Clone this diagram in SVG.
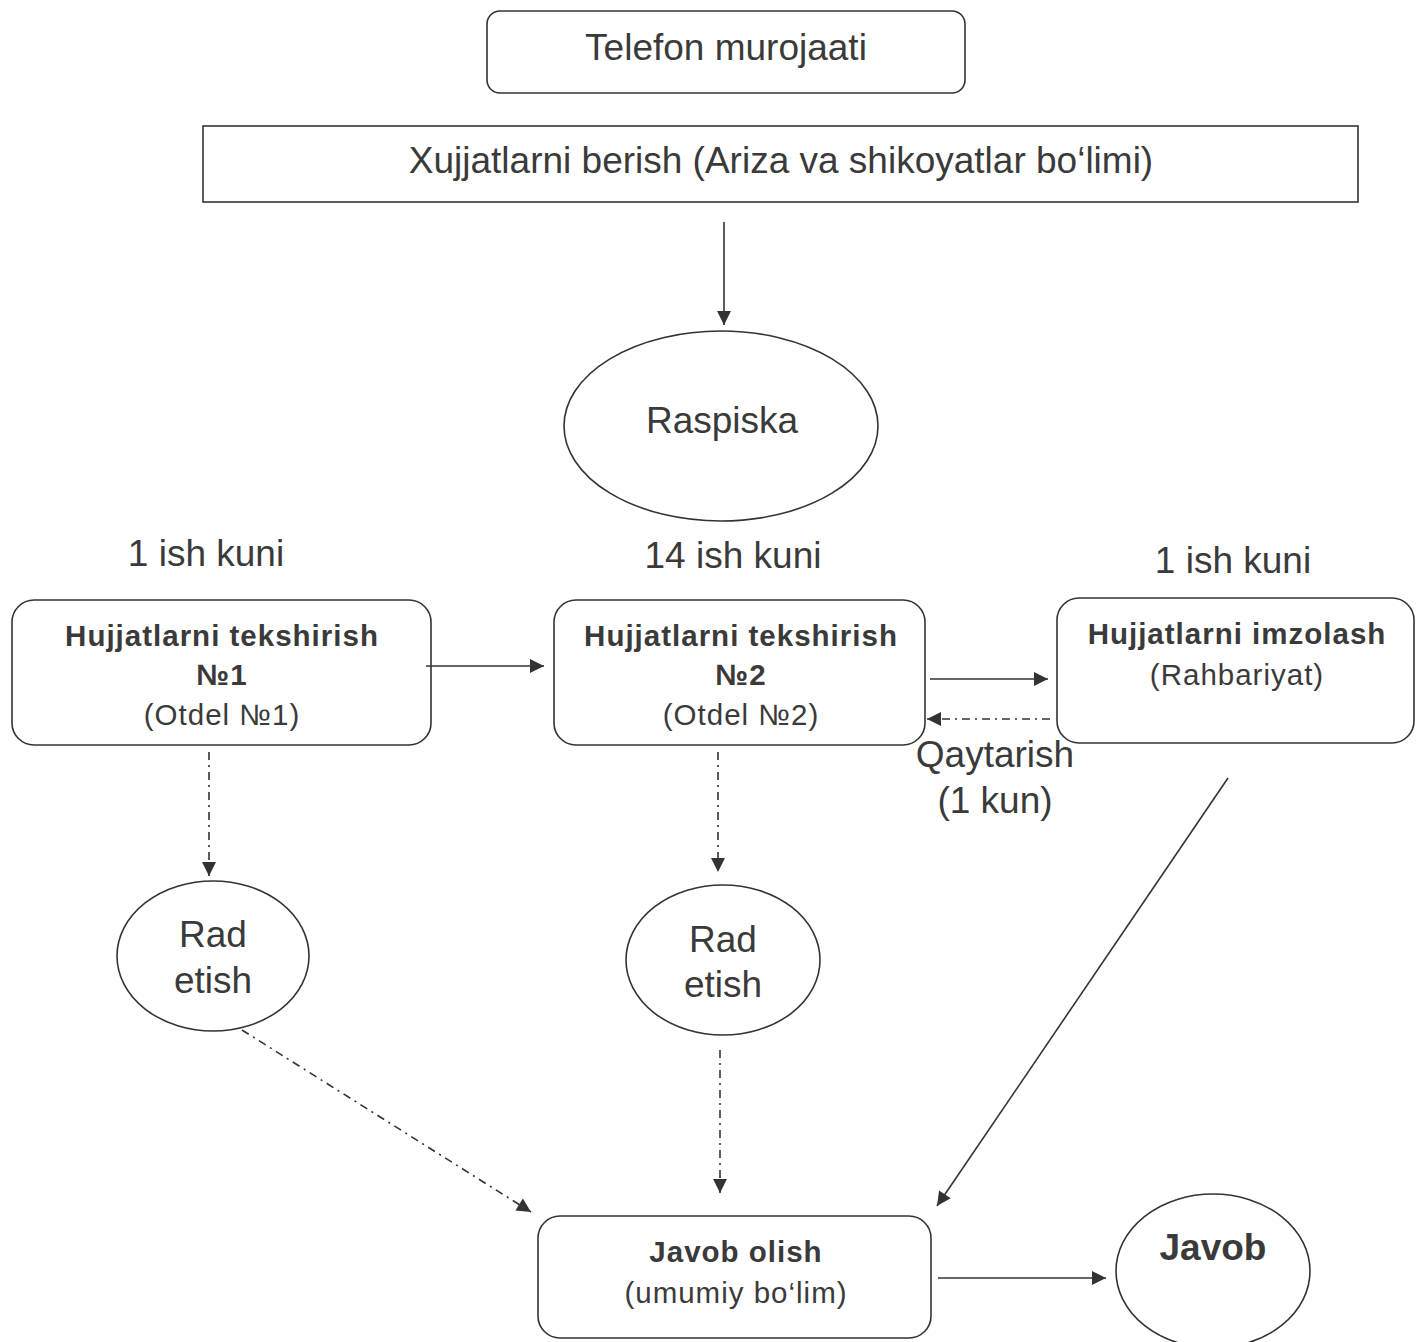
<svg xmlns="http://www.w3.org/2000/svg" width="1418" height="1342" viewBox="0 0 1418 1342">
<defs>
<style>
.box{fill:none;stroke:#333;stroke-width:1.6}
.t{font-family:"Liberation Sans",Arial,sans-serif;fill:#3a3a3a;text-anchor:middle}
.big{font-size:37px}
.mid{font-size:29.5px;letter-spacing:1px}
.b{font-weight:bold}
.ln{fill:none;stroke:#333;stroke-width:1.6}
.dd{fill:none;stroke:#333;stroke-width:1.6;stroke-dasharray:8 5 2 5}
</style>
<marker id="ah" viewBox="0 0 10 10" refX="10" refY="5" markerWidth="18" markerHeight="14" markerUnits="userSpaceOnUse" orient="auto">
<path d="M0,0 L10,5 L0,10 Z" fill="#333"/>
</marker>
</defs>
<rect width="1418" height="1342" fill="#fff"/>

<g id="connectors">
<line class="ln" x1="724" y1="222" x2="724" y2="325" marker-end="url(#ah)"/>
<line class="ln" x1="426" y1="666" x2="544" y2="666" marker-end="url(#ah)"/>
<line class="ln" x1="930" y1="679" x2="1048" y2="679" marker-end="url(#ah)"/>
<line class="dd" x1="1050" y1="719" x2="927" y2="719" marker-end="url(#ah)"/>
<line class="dd" x1="209" y1="752" x2="209" y2="876" marker-end="url(#ah)"/>
<line class="dd" x1="718" y1="752" x2="718" y2="872" marker-end="url(#ah)"/>
<line class="dd" x1="242" y1="1030" x2="531" y2="1212" marker-end="url(#ah)"/>
<line class="dd" x1="720" y1="1050" x2="720" y2="1193" marker-end="url(#ah)"/>
<line class="ln" x1="1228" y1="778" x2="937" y2="1206" marker-end="url(#ah)"/>
<line class="ln" x1="938" y1="1278" x2="1106" y2="1278" marker-end="url(#ah)"/>
</g>

<g id="telefon">
<rect class="box" x="487" y="11" width="478" height="82" rx="13"/>
<text class="t big" x="726" y="60">Telefon murojaati</text>
</g>

<g id="xujjat">
<rect class="box" x="203" y="126" width="1155" height="76"/>
<text class="t big" x="781" y="173">Xujjatlarni berish (Ariza va shikoyatlar bo‘limi)</text>
</g>

<g id="raspiska">
<ellipse class="box" cx="721" cy="426" rx="157" ry="95"/>
<text class="t big" x="722" y="433">Raspiska</text>
</g>

<g id="labels">
<text class="t big" x="206" y="566">1 ish kuni</text>
<text class="t big" x="733" y="568">14 ish kuni</text>
<text class="t big" x="1233" y="573">1 ish kuni</text>
<text class="t big" x="995" y="767">Qaytarish</text>
<text class="t big" x="995" y="813">(1 kun)</text>
</g>

<g id="tekshirish1">
<rect class="box" x="12" y="600" width="419" height="145" rx="22"/>
<text class="t mid b" x="222" y="646">Hujjatlarni tekshirish</text>
<text class="t mid b" x="222" y="685">№1</text>
<text class="t mid" x="222" y="725">(Otdel №1)</text>
</g>

<g id="tekshirish2">
<rect class="box" x="554" y="600" width="371" height="145" rx="22"/>
<text class="t mid b" x="741" y="646">Hujjatlarni tekshirish</text>
<text class="t mid b" x="741" y="685">№2</text>
<text class="t mid" x="741" y="725">(Otdel №2)</text>
</g>

<g id="imzolash">
<rect class="box" x="1057" y="598" width="357" height="145" rx="22"/>
<text class="t mid b" x="1237" y="644">Hujjatlarni imzolash</text>
<text class="t mid" x="1237" y="685">(Rahbariyat)</text>
</g>

<g id="rad1">
<ellipse class="box" cx="213" cy="956" rx="96" ry="75"/>
<text class="t big" x="213" y="947">Rad</text>
<text class="t big" x="213" y="993">etish</text>
</g>

<g id="rad2">
<ellipse class="box" cx="723" cy="960" rx="97" ry="75"/>
<text class="t big" x="723" y="952">Rad</text>
<text class="t big" x="723" y="997">etish</text>
</g>

<g id="javobolish">
<rect class="box" x="538" y="1216" width="393" height="122" rx="22"/>
<text class="t mid b" x="736" y="1262">Javob olish</text>
<text class="t mid" x="736" y="1303">(umumiy bo‘lim)</text>
</g>

<g id="javob">
<ellipse class="box" cx="1213" cy="1271" rx="97" ry="77"/>
<text class="t b" style="font-size:37px" x="1213" y="1260">Javob</text>
</g>
</svg>
